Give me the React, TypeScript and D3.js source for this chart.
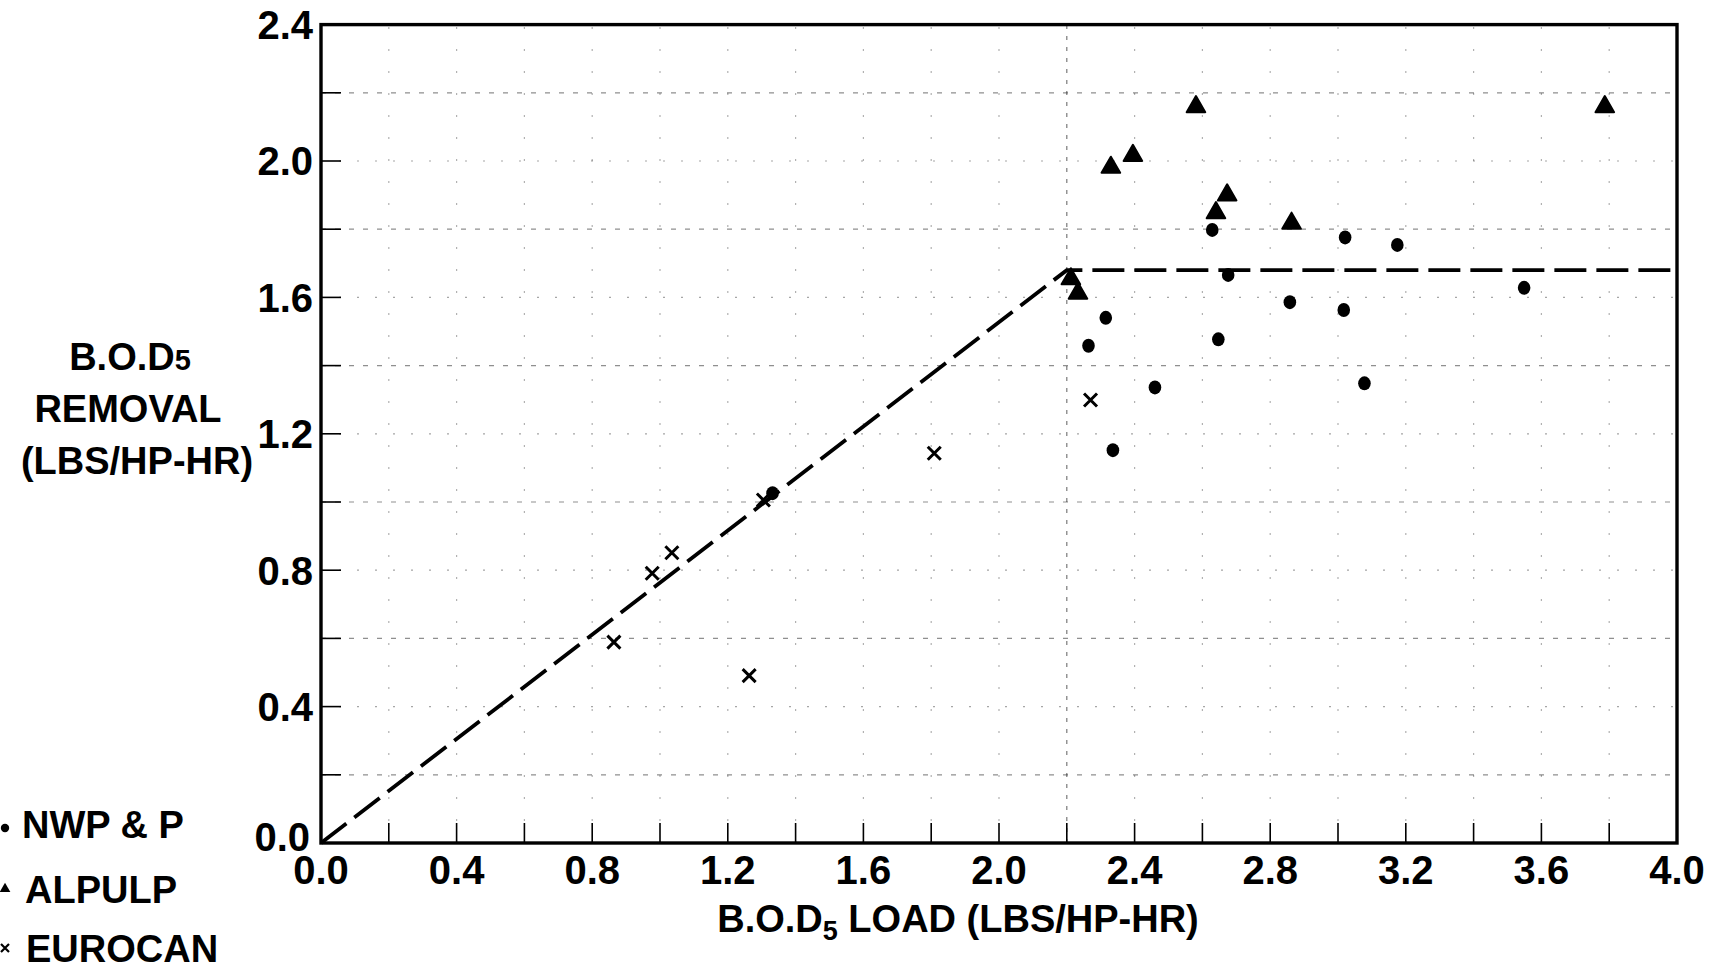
import React from "react";
import * as d3 from "d3";

// ---- data ----
const nwpX = [2.629, 3.021, 3.175, 2.676, 3.549, 2.858, 3.017, 2.315, 2.264, 2.647, 2.46, 3.078, 2.336, 1.332];
const nwpY = [1.798, 1.776, 1.754, 1.666, 1.628, 1.586, 1.563, 1.54, 1.458, 1.477, 1.336, 1.348, 1.152, 1.026];

const alpulpX = [2.581, 3.787, 2.33, 2.395, 2.673, 2.64, 2.863, 2.212, 2.233];
const alpulpY = [2.159, 2.159, 1.981, 2.016, 1.9, 1.848, 1.817, 1.654, 1.612];

const eurocanX = [2.27, 1.809, 1.305, 1.035, 0.977, 0.864, 1.263];
const eurocanY = [1.299, 1.143, 1.006, 0.851, 0.791, 0.589, 0.491];

const curveX = [0, 2.2, 4.0];
const curveY = [0, 1.68, 1.68];

const xTicks = [0.0, 0.4, 0.8, 1.2, 1.6, 2.0, 2.4, 2.8, 3.2, 3.6, 4.0];
const yTicks = [0.0, 0.4, 0.8, 1.2, 1.6, 2.0, 2.4];
const minorX = [0.2, 0.4, 0.6, 0.8, 1.0, 1.2, 1.4, 1.6, 1.8, 2.0, 2.2, 2.4, 2.6, 2.8, 3.0, 3.2, 3.4, 3.6, 3.8];
const minorY = [0.2, 0.4, 0.6, 0.8, 1.0, 1.2, 1.4, 1.6, 1.8, 2.0, 2.2];

const legendLabels = ["NWP & P", "ALPULP", "EUROCAN"];

const W = 1731;
const H = 969;
const FONT = "'Liberation Sans', Arial, sans-serif";

export default function App() {
  const x = d3.scaleLinear().domain([0, 4]).range([321, 1677]);
  const y = d3.scaleLinear().domain([0, 2.4]).range([843, 24.6]);

  const line = d3
    .line<number>()
    .x((_, i) => x(curveX[i]))
    .y((_, i) => y(curveY[i]));

  const tri = d3.symbol().type(d3.symbolTriangle).size(150)() as string;
  const triSmall = d3.symbol().type(d3.symbolTriangle).size(50)() as string;

  const cross = (cx: number, cy: number, s: number) =>
    `M${cx - s},${cy - s}L${cx + s},${cy + s}M${cx - s},${cy + s}L${cx + s},${cy - s}`;

  const [x0, x1] = x.range();
  const [y0, y1] = y.range();

  return (
    <svg
      width={W}
      height={H}
      style={{ position: "absolute", left: 0, top: 0, background: "#fff" }}
      fontFamily={FONT}
    >
      <rect x={0} y={0} width={W} height={H} fill="#fff" />

      {/* grid */}
      <g stroke="#222" strokeWidth={1.2}>
        {minorY.map((v) => (
          <line
            key={"gy" + v}
            x1={x0}
            x2={x1}
            y1={y(v)}
            y2={y(v)}
            strokeDasharray={Math.round(v * 10) % 4 === 2 ? "5 9" : "2 16"}
            opacity={Math.round(v * 10) % 4 === 2 ? 0.5 : 0.4}
          />
        ))}
        {minorX.map((v) => (
          <line
            key={"gx" + v}
            x1={x(v)}
            x2={x(v)}
            y1={y0}
            y2={y1}
            strokeDasharray={Math.abs(v - 2.2) < 1e-6 ? "4 7" : "2 20"}
            opacity={Math.abs(v - 2.2) < 1e-6 ? 0.6 : 0.35}
          />
        ))}
      </g>

      {/* ticks */}
      <g stroke="#000" strokeWidth={1.6}>
        {minorX.map((v) => (
          <line key={"tx" + v} x1={x(v)} x2={x(v)} y1={y0} y2={y0 - 20} />
        ))}
        {minorY.map((v) => (
          <line key={"ty" + v} x1={x0} x2={x0 + 20} y1={y(v)} y2={y(v)} />
        ))}
      </g>

      {/* frame */}
      <rect
        x={x0}
        y={y1}
        width={x1 - x0}
        height={y0 - y1}
        fill="none"
        stroke="#000"
        strokeWidth={3.4}
      />

      {/* fitted line */}
      <path
        d={line(curveX) as string}
        fill="none"
        stroke="#000"
        strokeWidth={3.8}
        strokeDasharray="32 10"
      />

      {/* NWP & P */}
      {nwpX.map((v, i) => (
        <ellipse key={"n" + i} cx={x(v)} cy={y(nwpY[i])} rx={6.3} ry={7} fill="#000" />
      ))}
      {/* ALPULP */}
      {alpulpX.map((v, i) => (
        <path
          key={"a" + i}
          d={tri}
          transform={`translate(${x(v)},${y(alpulpY[i])})`}
          fill="#000"
          stroke="#000"
          strokeWidth={2}
          strokeLinejoin="round"
        />
      ))}
      {/* EUROCAN */}
      {eurocanX.map((v, i) => (
        <path
          key={"e" + i}
          d={cross(x(v), y(eurocanY[i]), 6.5)}
          stroke="#000"
          strokeWidth={3}
          fill="none"
        />
      ))}

      {/* tick labels */}
      <g fontSize={40} fontWeight="bold" fill="#000">
        {yTicks.map((v) => (
          <text
            key={"ly" + v}
            x={v === 0 ? 310 : 313}
            y={v === 0 ? y(v) - 6 : y(v)}
            dy="0.36em"
            textAnchor="end"
          >
            {v.toFixed(1)}
          </text>
        ))}
        {xTicks.map((v) => (
          <text key={"lx" + v} x={x(v)} y={884} textAnchor="middle">
            {v.toFixed(1)}
          </text>
        ))}
      </g>

      {/* axis titles */}
      <g fontSize={38} fontWeight="bold" fill="#000" textAnchor="middle">
        <text x={958} y={932}>
          B.O.D<tspan fontSize={27} dy={8}>5</tspan>
          <tspan dy={-8}> LOAD (LBS/HP-HR)</tspan>
        </text>
        <text x={130} y={370}>
          B.O.D<tspan fontSize={29}>5</tspan>
        </text>
        <text x={128} y={422}>REMOVAL</text>
        <text x={137} y={474}>(LBS/HP-HR)</text>
      </g>

      {/* legend */}
      <g fontSize={38} fontWeight="bold" fill="#000">
        <circle cx={5} cy={828} r={4.2} fill="#000" />
        <text x={22} y={838}>{legendLabels[0]}</text>
        <path d={triSmall} transform="translate(5,889)" fill="#000" />
        <text x={25} y={903}>{legendLabels[1]}</text>
        <path d={cross(5, 948, 4)} stroke="#000" strokeWidth={2.2} />
        <text x={26} y={962}>{legendLabels[2]}</text>
      </g>
    </svg>
  );
}
